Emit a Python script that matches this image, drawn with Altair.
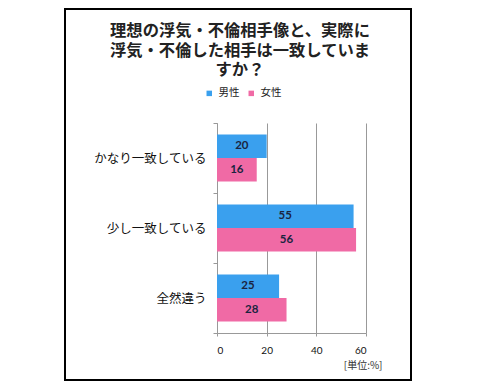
import altair as alt
import pandas as pd

categories = ["かなり一致している", "少し一致している", "全然違う"]
series = ["男性", "女性"]
male = [20, 55, 25]
female = [16, 56, 28]
x_ticks = [0, 20, 40, 60]
title_lines = ["理想の浮気・不倫相手像と、実際に", "浮気・不倫した相手は一致していま", "すか？"]
colors = ["#3aa0ee", "#f06aa5"]

rows = []
for c, m, f in zip(categories, male, female):
    rows.append({"cat": c, "sex": series[0], "val": m})
    rows.append({"cat": c, "sex": series[1], "val": f})
df = pd.DataFrame(rows)

JP = "Noto Sans CJK JP"

y_enc = alt.Y("cat:N", sort=categories, title=None,
              scale=alt.Scale(paddingInner=0, paddingOuter=0),
              axis=alt.Axis(tickBand="extent", labelFont=JP, labelFontSize=12.5,
                            labelColor="#111", labelPadding=7, tickSize=4,
                            tickColor="#999", domainColor="#999", grid=False))
yoff = alt.YOffset("sex:N", sort=series,
                   scale=alt.Scale(paddingInner=0, paddingOuter=0.49))
x_enc = alt.X("val:Q", scale=alt.Scale(domain=[0, 60], nice=False),
              title="[単位:%]",
              axis=alt.Axis(values=x_ticks, grid=True, gridColor="#999",
                            domainColor="#999", tickColor="#999", tickSize=3,
                            labelFont="Lato", labelFontSize=10, labelColor="#111",
                            labelPadding=9, titleFont=JP, titleFontSize=10,
                            titleFontWeight="normal", titleColor="#333",
                            titleAnchor="end", titleAlign="right",
                            titleX=165, titleY=32, titleBaseline="middle"))

base = alt.Chart(df)
bars = base.mark_bar().encode(
    x=x_enc, y=y_enc, yOffset=yoff,
    color=alt.Color("sex:N", sort=series,
                    scale=alt.Scale(domain=series, range=colors),
                    legend=alt.Legend(title=None, orient="none", direction="horizontal",
                                      legendX=-13, legendY=-35, symbolType="square",
                                      symbolSize=30, symbolStrokeWidth=0,
                                      labelFont=JP, labelFontSize=10.5,
                                      labelColor="#222", labelOffset=4,
                                      columnPadding=6, padding=0)),
)
labels = base.mark_text(font="Lato", fontSize=11.5, fontWeight="bold",
                        color="#1a2440").encode(
    x=alt.X("center:Q"), y=alt.Y("cat:N", sort=categories), yOffset=yoff,
    text=alt.Text("val:Q"),
).transform_calculate(center="datum.val / 2")

one = alt.Chart(pd.DataFrame({"a": [0]}))
title = one.mark_text(font=JP, fontSize=16.3, fontWeight="bold", color="#222",
                      lineHeight=19.5, align="center", baseline="top").encode(
    x=alt.value(23), y=alt.value(-100), text=alt.value(title_lines))

frame = one.mark_rect(fillOpacity=0, stroke="#000", strokeWidth=2).encode(
    x=alt.value(-152), x2=alt.value(194), y=alt.value(-114), y2=alt.value(257))

chart = alt.layer(bars, labels, title, frame).properties(
    width=149, height=210,
    autosize=alt.AutoSizeParams(type="none"),
    padding={"left": 209, "top": 115, "right": 60, "bottom": 50},
).configure_view(stroke=None)

chart.save("out.html", embed_options={"renderer": "svg", "actions": False})
